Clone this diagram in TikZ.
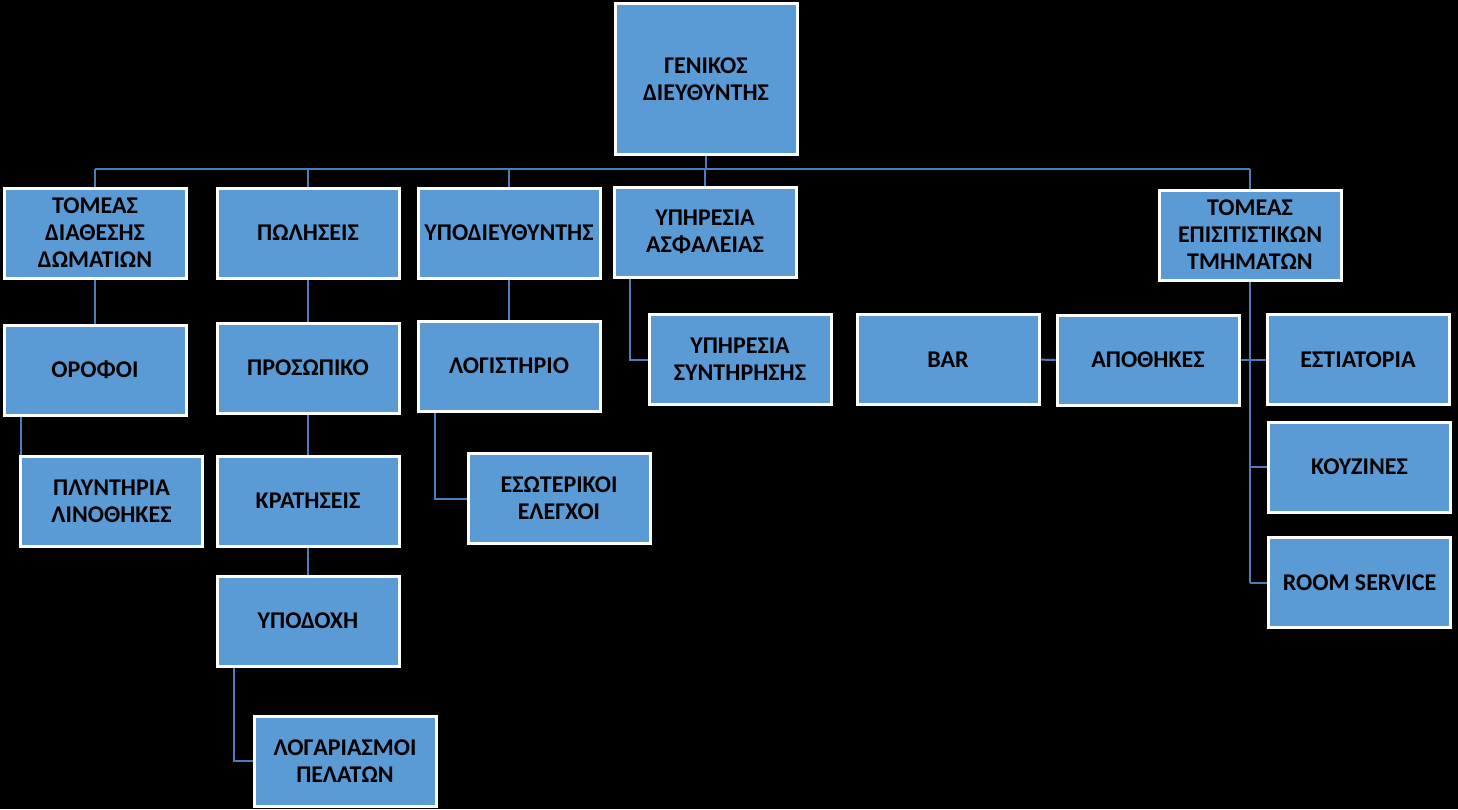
\documentclass[tikz,border=0pt]{standalone}
\usepackage{fontspec}
\setmainfont{Carlito}
\usetikzlibrary{backgrounds}
\definecolor{boxblue}{HTML}{5B9BD5}
\definecolor{linkblue}{HTML}{4A7EBB}

\begin{document}
\begin{tikzpicture}[x=1pt,y=-1pt]
  \tikzset{orgbox/.style={draw=white,line width=3pt,fill=boxblue,minimum width=182pt,minimum height=90pt,inner sep=1pt,align=center,font=\bfseries\fontsize{24}{27}\selectfont},
    link/.style={linkblue,line width=2pt}}
  \useasboundingbox (0,0) rectangle (1458,809);
  % top
  \node[orgbox,minimum height=151pt] (gm) at (706,79) {ΓΕΝΙΚΟΣ\\ΔΙΕΥΘΥΝΤΗΣ};
  % second row
  \node[orgbox] (tdd) at (95,233) {ΤΟΜΕΑΣ\\ΔΙΑΘΕΣΗΣ\\ΔΩΜΑΤΙΩΝ};
  \node[orgbox] (pol) at (308,233) {ΠΩΛΗΣΕΙΣ};
  \node[orgbox] (ypo) at (509,233) {ΥΠΟΔΙΕΥΘΥΝΤΗΣ};
  \node[orgbox] (asf) at (705,232) {ΥΠΗΡΕΣΙΑ\\ΑΣΦΑΛΕΙΑΣ};
  \node[orgbox] (epi) at (1250,235) {ΤΟΜΕΑΣ\\ΕΠΙΣΙΤΙΣΤΙΚΩΝ\\ΤΜΗΜΑΤΩΝ};
  % rooms
  \node[orgbox] (orof) at (95,370) {ΟΡΟΦΟΙ};
  \node[orgbox] (plyn) at (111.5,501.5) {ΠΛΥΝΤΗΡΙΑ\\ΛΙΝΟΘΗΚΕΣ};
  % sales
  \node[orgbox] (pros) at (308,368) {ΠΡΟΣΩΠΙΚΟ};
  \node[orgbox] (krat) at (308,501) {ΚΡΑΤΗΣΕΙΣ};
  \node[orgbox] (ypod) at (308,621) {ΥΠΟΔΟΧΗ};
  \node[orgbox] (logp) at (345,761) {ΛΟΓΑΡΙΑΣΜΟΙ\\ΠΕΛΑΤΩΝ};
  % deputy
  \node[orgbox] (logist) at (509,366) {ΛΟΓΙΣΤΗΡΙΟ};
  \node[orgbox] (esot) at (559,498.5) {ΕΣΩΤΕΡΙΚΟΙ\\ΕΛΕΓΧΟΙ};
  % security
  \node[orgbox] (synt) at (740,359.5) {ΥΠΗΡΕΣΙΑ\\ΣΥΝΤΗΡΗΣΗΣ};
  % catering
  \node[orgbox] (bar) at (948,359.5) {BAR};
  \node[orgbox] (apoth) at (1148,360) {ΑΠΟΘΗΚΕΣ};
  \node[orgbox] (estia) at (1358,359.5) {ΕΣΤΙΑΤΟΡΙΑ};
  \node[orgbox] (kouz) at (1359.5,467) {ΚΟΥΖΙΝΕΣ};
  \node[orgbox] (room) at (1359.5,582.5) {ROOM SERVICE};
  \begin{scope}[on background layer]
    \fill[black] (0,0) rectangle (1458,809);
    \coordinate (busl) at (95,169);
    \coordinate (busr) at (1250,169);
    \draw[link] (gm.south) -- (gm.south |- busl);
    \draw[link] (busl) -- (busr);
    \foreach \n in {tdd,pol,ypo,asf,epi}
      \draw[link] (\n.north) -- (\n.north |- busl);
    \draw[link] (tdd) -- (orof);
    \draw[link] ([xshift=-74pt]orof.south) -- ([xshift=-74pt]orof.south |- plyn.north);
    \draw[link] (pol) -- (pros);
    \draw[link] (pros) -- (krat);
    \draw[link] (krat) -- (ypod);
    \draw[link] ([xshift=-74pt]ypod.south) |- (logp.west);
    \draw[link] (ypo) -- (logist);
    \draw[link] ([xshift=-74pt]logist.south) |- (esot.west);
    \draw[link] ([xshift=-75pt]asf.south) |- (synt.west);
    \draw[link] (epi.south) -- (epi.south |- room.west);
    \foreach \n in {estia,kouz,room}
      \draw[link] (epi.south |- \n.west) -- (\n.west);
    \draw[link] (apoth.east) -- (apoth.east -| epi.south);
    \draw[link] (bar) -- (apoth);
  \end{scope}
\end{tikzpicture}
\end{document}
